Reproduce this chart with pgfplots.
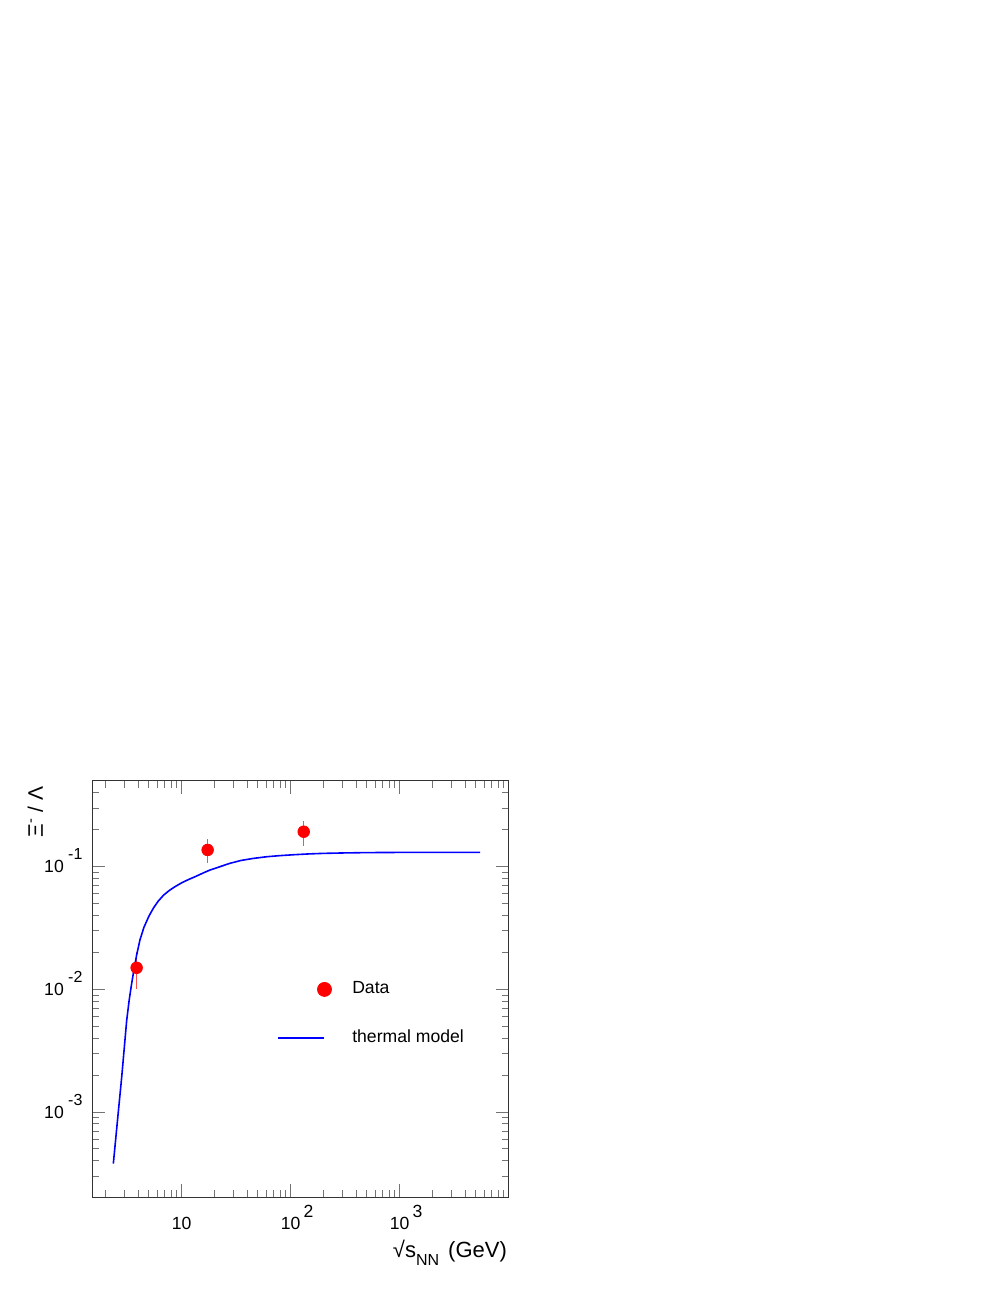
\documentclass[border=0pt]{standalone}
\usepackage{fontspec}
\setmainfont{Liberation Sans}
\usepackage{pgfplots}
\pgfplotsset{compat=1.18}
\begin{document}
\begin{tikzpicture}
\path[use as bounding box, fill=white] (0,0) rectangle (498.5pt,645pt);
\begin{axis}[
  at={(46.25pt,46.5pt)}, anchor=south west,
  scale only axis, width=208pt, height=208pt,
  xmode=log, ymode=log,
  xmin=1.52, xmax=9950, ymin=2.03e-4, ymax=0.5,
  axis line style={black!80, line width=0.5pt},
  tick style={black!55, line width=0.5pt},
  major tick length=6.5pt, minor tick length=3.3pt,
  xtick={10,100,1000},
  xticklabels={10, 10\rlap{\hspace{1.5pt}\smash{\raisebox{6pt}{2}}}, 10\rlap{\hspace{1.5pt}\smash{\raisebox{6pt}{3}}}},
  minor xtick={2,3,4,5,6,7,8,9,20,30,40,50,60,70,80,90,200,300,400,500,600,700,800,900,2000,3000,4000,5000,6000,7000,8000,9000},
  ytick={1e-3,1e-2,1e-1},
  yticklabels={10\hspace{2.2pt}\smash{\raisebox{6.5pt}{\fontsize{8}{9}\selectfont -3}}, 10\hspace{2.2pt}\smash{\raisebox{6.5pt}{\fontsize{8}{9}\selectfont -2}}, 10\hspace{2.2pt}\smash{\raisebox{6.5pt}{\fontsize{8}{9}\selectfont -1}}},
  minor ytick={3e-4,4e-4,5e-4,6e-4,7e-4,8e-4,9e-4,2e-3,3e-3,4e-3,5e-3,6e-3,7e-3,8e-3,9e-3,2e-2,3e-2,4e-2,5e-2,6e-2,7e-2,8e-2,9e-2,0.2,0.3,0.4},
  xticklabel style={font=\fontsize{8.8}{10}\selectfont, yshift=-6.8pt},
  yticklabel style={font=\fontsize{8.8}{10}\selectfont, xshift=-1.5pt},
  xlabel={√s\raisebox{-3.6pt}{\fontsize{8}{9}\selectfont NN}\hspace{1.5pt} (GeV)},
  ylabel={Ξ\textsuperscript{-} / Λ},
  every axis x label/.style={at={(axis description cs:0.9971,-0.1466)}, anchor=base east, font=\fontsize{11}{13}\selectfont, inner sep=0pt},
  every axis y label/.style={at={(axis description cs:-0.119,0.988)}, rotate=90, anchor=base east, font=\fontsize{10.5}{12}\selectfont, inner sep=0pt},
  legend style={draw=none, fill=none, at={(axis description cs:0.4442,0.5192)}, anchor=north west, font=\fontsize{8.8}{10}\selectfont, row sep=16.3pt, column sep=10.2pt, inner sep=0pt, nodes={inner sep=0pt}},
  legend cell align=left,
]
\addplot[only marks, mark=*, mark size=2.9pt, color=red, mark options={draw=red, fill=red},
  error bars/.cd, y dir=both, y explicit, error mark=none, error bar style={red!70, line width=0.6pt}]
  coordinates {(3.86,0.015) +- (0,0.005) (17.3,0.137) +- (0,0.03) (131.6,0.193) +- (0,0.045)};
\addlegendimage{legend image code/.code={\path[draw=none,fill=none] (0pt,-4pt) rectangle (26.5pt,4pt); \fill[red] (23pt,0pt) circle (3.5pt);}}
\addplot[blue, line width=0.8pt, forget plot] coordinates {
 (2.36,3.8e-4) (2.6,9.3e-4) (2.82,1.95e-3) (3.0,3.65e-3) (3.13,5.6e-3) (3.30,8.2e-3)
 (3.45,1.07e-2) (3.60,1.35e-2) (3.85,1.88e-2) (4.14,2.53e-2) (4.5,3.2e-2) (5.0,3.95e-2)
 (5.5,4.6e-2) (6.1,5.25e-2) (6.8,5.85e-2) (7.6,6.35e-2) (8.5,6.8e-2) (10,7.4e-2)
 (11.5,7.85e-2) (13.5,8.35e-2) (16,8.95e-2) (18.2,9.4e-2) (22,0.0995) (27.7,0.1066)
 (35,0.1125) (45,0.1168) (60,0.1206) (80,0.1232) (110,0.1255) (150,0.1273) (200,0.1285)
 (300,0.1295) (450,0.1302) (661,0.1306) (1000,0.1308) (5460,0.131)};
\addlegendimage{legend image code/.code={\path[draw=none,fill=none] (0pt,-4pt) rectangle (26.5pt,4pt); \draw[blue, line width=0.8pt] (0pt,0pt) -- (23pt,0pt);}}
\legend{,Data,thermal model}
\end{axis}
\end{tikzpicture}
\end{document}
